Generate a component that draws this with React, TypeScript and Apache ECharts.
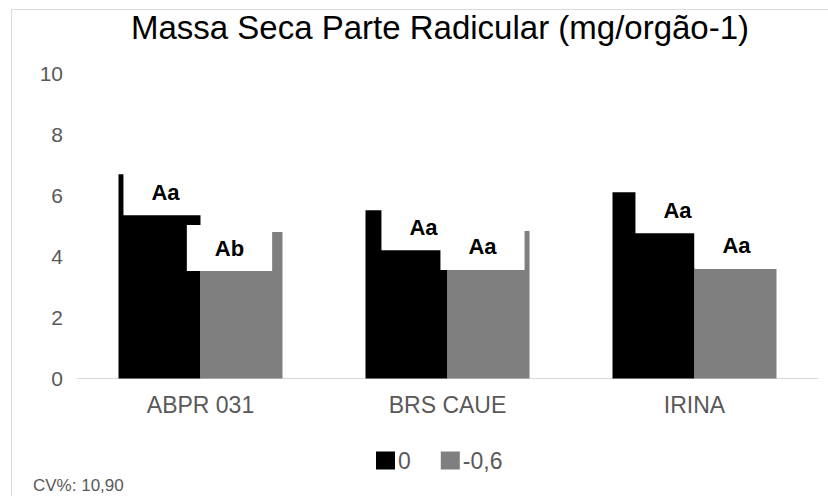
import React, { useEffect, useRef } from "react";
import * as echarts from "echarts";

const categories = ["ABPR 031", "BRS CAUE", "IRINA"];
const seriesNames = ["0", "-0,6"];
const valuesControl = [6.7, 5.52, 6.11];
const valuesStress = [4.8, 4.84, 3.59];
const lettersControl = ["Aa", "Aa", "Aa"];
const lettersStress = ["Ab", "Aa", "Aa"];
const yTicks = [0, 2, 4, 6, 8, 10];
const titleText = "Massa Seca Parte Radicular (mg/orgão-1)";
const footText = "CV%: 10,90";

// label offsets (layout) relative to bar top centre
const offsetsControl = [[6, 18], [17, 17], [24, 18]];
const offsetsStress = [[-12, 16], [-6, 16], [1, -24]];

const FONT = "'Liberation Sans', Arial, sans-serif";

export default function App() {
  const ref = useRef<HTMLDivElement>(null);
  useEffect(() => {
    if (!ref.current) return;
    const chart = echarts.init(ref.current, undefined, { renderer: "svg" });
    const mkLabel = (txt: string, off: number[]) => ({
      show: true,
      formatter: txt,
      position: ["50%", 0],
      align: "center",
      verticalAlign: "middle",
      offset: off,
      fontFamily: FONT,
      fontSize: 22,
      fontWeight: "bold",
      color: "#000",
      backgroundColor: "#fff",
      padding: [12, 28],
      lineHeight: 22,
    });
    chart.setOption({
      animation: false,
      backgroundColor: "#fff",
      textStyle: { fontFamily: FONT },
      grid: { left: 77, right: 10, top: 73.5, bottom: 117.5, containLabel: false },
      legend: {
        top: 444,
        left: 371,
        itemWidth: 19,
        itemHeight: 18,
        itemGap: 30,
        icon: "rect",
        textStyle: { fontFamily: FONT, fontSize: 23, color: "#595959", padding: [0, 0, 0, -2] },
        data: seriesNames,
      },
      xAxis: {
        type: "category",
        data: categories,
        axisLine: { lineStyle: { color: "#d9d9d9", width: 1 } },
        axisTick: { show: false },
        axisLabel: { fontFamily: FONT, fontSize: 23, color: "#595959", margin: 15 },
      },
      yAxis: {
        type: "value",
        min: 0,
        max: 10,
        interval: 2,
        axisLine: { show: false },
        axisTick: { show: false },
        splitLine: { show: false },
        axisLabel: {
          fontFamily: FONT,
          fontSize: 21,
          color: "#595959",
          margin: 14,
          formatter: (v: number) => (yTicks.includes(v) ? String(v) : ""),
        },
      },
      series: [
        {
          name: seriesNames[0],
          type: "bar",
          barWidth: 82,
          barGap: "0%",
          barCategoryGap: "33.6%",
          itemStyle: { color: "#000000" },
          data: valuesControl.map((v, i) => ({ value: v, label: mkLabel(lettersControl[i], offsetsControl[i]) })),
        },
        {
          name: seriesNames[1],
          type: "bar",
          barWidth: 82,
          barGap: "0%",
          itemStyle: { color: "#7f7f7f" },
          data: valuesStress.map((v, i) => ({ value: v, label: mkLabel(lettersStress[i], offsetsStress[i]) })),
        },
      ],
      graphic: [
        {
          type: "rect",
          shape: { x: 11.5, y: 9.5, width: 840, height: 500 },
          style: { fill: "none", stroke: "#d9d9d9", lineWidth: 1 },
          silent: true,
          z: -10,
        },
        {
          type: "text",
          x: 440,
          y: 11,
          style: {
            text: titleText,
            fontFamily: FONT,
            fontSize: 33,
            fill: "#000",
            textAlign: "center",
            textVerticalAlign: "top",
          },
        },
        {
          type: "text",
          x: 33,
          y: 477,
          style: {
            text: footText,
            fontFamily: FONT,
            fontSize: 17,
            fill: "#595959",
            textAlign: "left",
            textVerticalAlign: "top",
          },
        },
      ],
    });
    return () => chart.dispose();
  }, []);
  return (
    <div
      ref={ref}
      style={{ position: "absolute", left: 0, top: 0, width: 828, height: 496, overflow: "hidden" }}
    />
  );
}
